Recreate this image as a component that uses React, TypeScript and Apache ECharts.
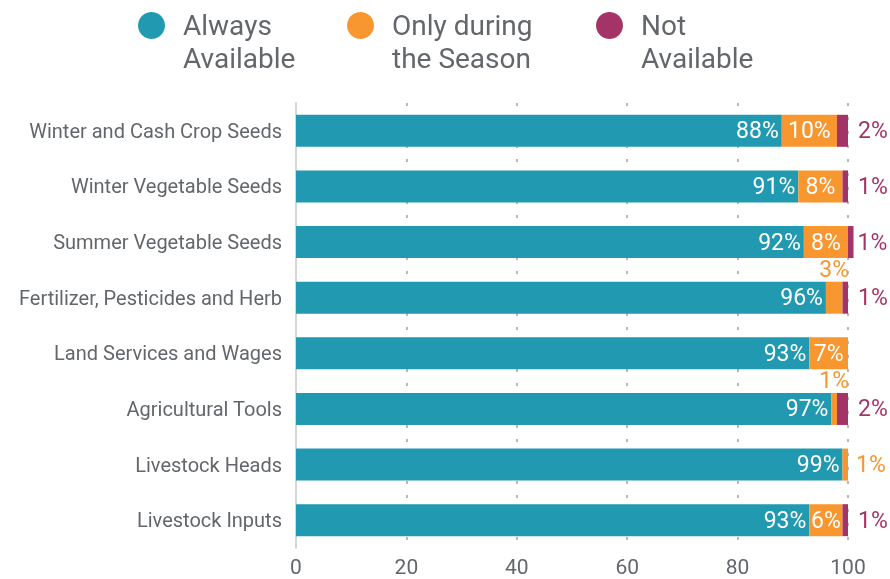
import React, { useEffect, useRef } from "react";
import * as echarts from "echarts";

const categories = [
  "Winter and Cash Crop Seeds",
  "Winter Vegetable Seeds",
  "Summer Vegetable Seeds",
  "Fertilizer, Pesticides and Herb",
  "Land Services and Wages",
  "Agricultural Tools",
  "Livestock Heads",
  "Livestock Inputs",
];
const seriesNames = ["Always\nAvailable", "Only during\nthe Season", "Not\nAvailable"];
const alwaysAvailable = [88, 91, 92, 96, 93, 97, 99, 93];
const onlySeason = [10, 8, 8, 3, 7, 1, 1, 6];
const notAvailable = [2, 1, 1, 1, 0, 2, 0, 1];
const xTicks = [0, 20, 40, 60, 80, 100];

const TEAL = "#2199b0";
const ORANGE = "#f8962f";
const PURPLE = "#a43467";
const GREY = "#63676b";
const FONT = "Roboto";

export default function App() {
  const ref = useRef<HTMLDivElement>(null);
  useEffect(() => {
    if (!ref.current) return;
    const chart = echarts.init(ref.current, undefined, { renderer: "svg" });
    const pct = (p: any) => (p.value > 0 ? p.value + "%" : "");
    const legendBase = (name: string, left: number) => ({
      data: [name],
      left,
      top: -24,
      padding: 0,
      orient: "horizontal",
      icon: "circle",
      itemWidth: 27,
      itemHeight: 27,
      selectedMode: false,
      formatter: (n: string) => "\n" + n,
      textStyle: {
        fontFamily: FONT,
        fontSize: 28,
        lineHeight: 33,
        color: GREY,
        padding: [0, 0, 0, 13],
      },
    });
    const seasonData = onlySeason.map((v, i) => {
      if (v < 5) {
        return {
          value: v,
          label: {
            position: notAvailable[i] > 0 ? "top" : "right",
            color: ORANGE,
            distance: notAvailable[i] > 0 ? 1 : 8,
          },
        };
      }
      return { value: v };
    });
    const notData = notAvailable.map((v, i) => {
      const total = alwaysAvailable[i] + onlySeason[i] + v;
      return total > 100 ? { value: v, label: { distance: 4 } } : { value: v };
    });
    chart.setOption({
      animation: false,
      textStyle: { fontFamily: FONT },
      legend: [
        legendBase(seriesNames[0], 138),
        legendBase(seriesNames[1], 347),
        legendBase(seriesNames[2], 596),
      ],
      grid: { left: 296, right: 42, top: 103, bottom: 31, containLabel: false },
      xAxis: {
        type: "value",
        min: 0,
        max: 100,
        interval: 20,
        axisLine: { show: false },
        axisTick: { show: false },
        axisLabel: {
          color: GREY,
          fontSize: 21,
          fontFamily: FONT,
          margin: 8,
          formatter: (v: number) => (xTicks.includes(v) ? String(v) : ""),
        },
        splitLine: {
          show: true,
          lineStyle: { color: "#b8b8b8", width: 2, type: [3, 11] },
        },
      },
      yAxis: {
        type: "category",
        data: categories,
        inverse: true,
        axisLine: { show: true, lineStyle: { color: "#d6d6d6", width: 2 } },
        axisTick: { show: false },
        axisLabel: { color: GREY, fontSize: 20, fontFamily: FONT, margin: 14 },
      },
      series: [
        {
          name: seriesNames[0],
          type: "bar",
          stack: "total",
          barWidth: 32,
          itemStyle: { color: TEAL },
          data: alwaysAvailable,
          label: {
            show: true,
            position: "insideRight",
            distance: 3,
            color: "#ffffff",
            fontSize: 23,
            fontFamily: FONT,
            formatter: pct,
          },
        },
        {
          name: seriesNames[1],
          type: "bar",
          stack: "total",
          barWidth: 32,
          itemStyle: { color: ORANGE },
          data: seasonData,
          label: {
            show: true,
            position: "inside",
            color: "#ffffff",
            fontSize: 23,
            fontFamily: FONT,
            formatter: pct,
          },
        },
        {
          name: seriesNames[2],
          type: "bar",
          stack: "total",
          barWidth: 32,
          clip: false,
          itemStyle: { color: PURPLE },
          data: notData,
          label: {
            show: true,
            position: "right",
            distance: 10,
            color: PURPLE,
            fontSize: 23,
            fontFamily: FONT,
            formatter: pct,
          },
        },
      ],
    });
    return () => chart.dispose();
  }, []);
  return (
    <div
      ref={ref}
      style={{ position: "fixed", left: 0, top: 0, width: 890, height: 579 }}
    />
  );
}
